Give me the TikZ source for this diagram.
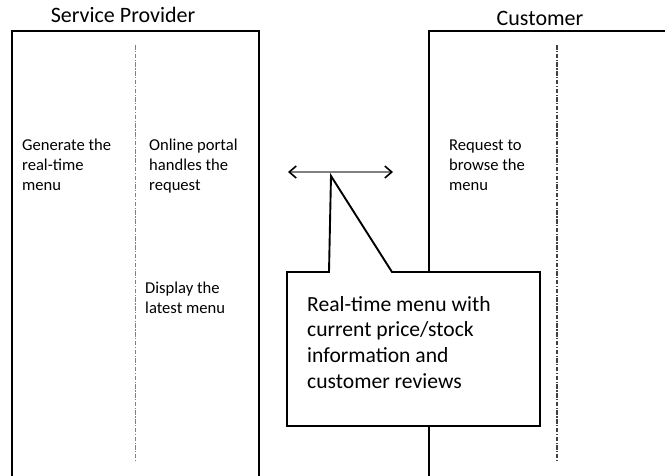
\documentclass[tikz,border=0pt]{standalone}
\usepackage{fontspec}
\setmainfont{Carlito}
\usetikzlibrary{arrows.meta}
\begin{document}
\begin{tikzpicture}[x=1pt,y=-1pt,
  lane/.style={line width=2.2pt,black},
  divider/.style={line width=1.7pt,gray,dash pattern=on 4.5pt off 1.5pt on 1.2pt off 1.5pt},
  title/.style={font=\fontsize{22}{26}\selectfont,anchor=base,inner sep=0pt},
  step text/.style={font=\fontsize{16.6}{20}\selectfont,anchor=base west,align=left,inner sep=0pt},
  note text/.style={font=\fontsize{21.6}{25.8}\selectfont,anchor=base west,align=left,inner sep=0pt},
  flow/.style={line width=1.2pt,gray,{Straight Barb[length=7pt,width=12pt,line width=1.6pt,black]}-{Straight Barb[length=7pt,width=12pt,line width=1.6pt,black]}}]
\useasboundingbox (0,0) rectangle (665,475);

% swim lanes (open at the bottom / right)
\draw[lane] (12,477) -- (12,31) -- (259,31) -- (259,477);
\draw[lane] (667,31) -- (429,31) -- (429,477);

\node[title] (sp) at (123,22) {Service Provider};
\node[title] (cu) at (540,25) {Customer};

% column dividers
\coordinate (d1top) at (135.5,45);
\coordinate (d1bot) at (135.5,460);
\coordinate (d2top) at (557,45);
\coordinate (d2bot) at (557,461);
\draw[divider] (d1top) -- (d1bot);
\draw[divider,gray!50!black,line width=1.4pt] (d2top) -- (d2bot);

% process steps (base anchor sits on the last line)
\node[step text] (gen) at (22,190) {Generate the\\real-time\\menu};
\node[step text] (portal) at (149,190) {Online portal\\handles the\\request};
\node[step text] (disp) at (145,313) {Display the\\latest menu};
\node[step text] (req) at (449,190) {Request to\\browse the\\menu};

% exchange between the two parties
\coordinate (aL) at (288,172);
\coordinate (aR) at (393,172);
\draw[flow] (aL) -- (aR);

% callout box with its pointer
\coordinate (tip) at (331,176);
\draw[line width=1.9pt,fill=white,line join=miter]
  (287,272) -- (329,272) -- (tip) -- (392,272) -- (540,272)
  -- (540,426) -- (287,426) -- cycle;
\node[note text] (note) at (307,388.4)
  {Real-time menu with\\current price/stock\\information and\\customer reviews};
\end{tikzpicture}
\end{document}
